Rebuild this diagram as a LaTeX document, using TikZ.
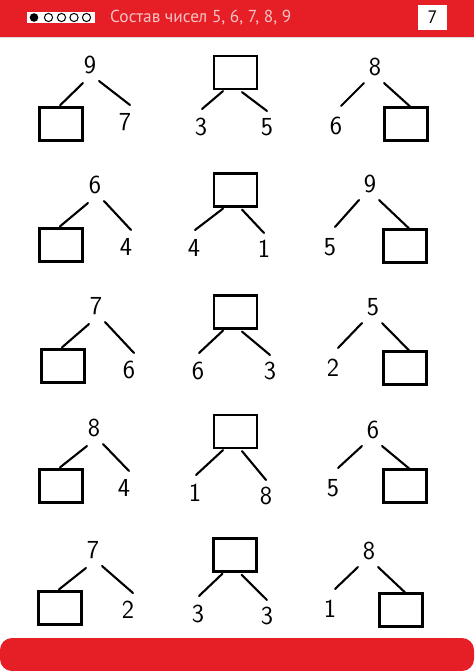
\documentclass[tikz,border=0pt]{standalone}
\usepackage{fontspec}
\newfontfamily\ptsans{PT Sans}
\usetikzlibrary{calc}
\definecolor{bandred}{RGB}{230,30,38}
\definecolor{titlepink}{RGB}{246,196,196}
\tikzset{
  dig/.style={font=\sffamily\fontsize{26}{26}\selectfont, inner sep=0pt},
  bx/.style={draw, line width=2.2pt, minimum width=43pt, minimum height=33pt, inner sep=0pt},
  ln/.style={line width=2.1pt, line cap=round},
}
% sum on top, box bottom-left, number bottom-right
\newcommand\cellL[8]{%
  \node[dig] (#1s) at (#2,#3) {#4};
  \node[bx] (#1b) at (#5) {};
  \node[dig] (#1n) at (#6,#7) {#8};
  \draw[ln] ([shift={(-7,18)}]#1s.center) -- ([shift={(-1,-1)}]#1b.north);
  \draw[ln] ([shift={(9,16)}]#1s.center) -- ([shift={(5,-17)}]#1n.center);
}
% sum on top, number bottom-left, box bottom-right
\newcommand\cellR[8]{%
  \node[dig] (#1s) at (#2,#3) {#4};
  \node[dig] (#1n) at (#5,#6) {#7};
  \node[bx] (#1b) at (#8) {};
  \draw[ln] ([shift={(-11,16)}]#1s.center) -- ([shift={(5,-20)}]#1n.center);
  \draw[ln] ([shift={(9,16)}]#1s.center) -- ([shift={(4,0)}]#1b.north);
}
% box on top, two numbers below
\newcommand\cellM[6]{%
  \node[bx] (#1b) at (#2) {};
  \node[dig] (#1l) at (#3) {#4};
  \node[dig] (#1r) at (#5) {#6};
  \draw[ln] ([shift={(-12.5,1)}]#1b.south) -- ([shift={(1,-18)}]#1l.center);
  \draw[ln] ([shift={(6.5,2)}]#1b.south) -- ([shift={(0,-16)}]#1r.center);
}
\begin{document}
\begin{tikzpicture}[x=1pt,y=-1pt]
\useasboundingbox (0,0) rectangle (474,671);
\fill[white] (0,0) rectangle (474,671);
% header band
\fill[bandred] (0,0) rectangle (474,37);
\draw[black!15, line width=0.8pt] (0,37.5) -- (474,37.5);
\node[fill=white, minimum width=68pt, minimum height=11pt, inner sep=0pt] (dots) at (60.5,17.5) {};
\fill[black] (34,17.5) circle (4.3);
\foreach \cx in {48.5,61.5,74,86.5}{\draw[black, line width=1pt] (\cx,17.5) circle (4.1);}
\node[anchor=west, text=titlepink, font=\ptsans\fontsize{17.3}{17.3}\selectfont, inner sep=0pt] (title) at (110,17.5) {Состав чисел 5, 6, 7, 8, 9};
\node[fill=white, minimum width=29pt, minimum height=25pt, inner sep=0pt, font=\ptsans\fontsize{18}{18}\selectfont] (pg) at (432.5,17.5) {7};
% bottom band
\fill[bandred, rounded corners=12pt] (0,671) -- (0,638) -- (474,638) -- (474,671) -- cycle;
% column 1
\cellL{aa}{90}{65}{9}{61,124}{125}{122}{7}
\cellL{ab}{95}{185}{6}{61,245}{126}{247}{4}
\cellL{ac}{96}{306}{7}{63,366}{129}{370}{6}
\cellL{ad}{94}{428}{8}{61,486}{124}{488}{4}
\cellL{ae}{93}{550}{7}{60,608}{128}{610}{2}
% column 2
\cellM{ba}{235.5,72.5}{201,127}{3}{267,127}{5}
\cellM{bb}{235.5,190}{194,248}{4}{264,249}{1}
\cellM{bc}{235.5,312}{198,371}{6}{270,371}{3}
\cellM{bd}{235.5,431.5}{195,493}{1}{266,496}{8}
\cellM{be}{235,555}{198,614}{3}{267,616}{3}
% column 3
\cellR{ca}{375}{67}{8}{336}{126}{6}{406,124}
\cellR{cb}{370}{184}{9}{330}{247}{5}{405,246}
\cellR{cc}{373}{307}{5}{333}{368}{2}{405,368}
\cellR{cd}{373}{430}{6}{333}{488}{5}{405,486}
\cellR{ce}{369}{551}{8}{330}{609}{1}{401,610}
\end{tikzpicture}
\end{document}
